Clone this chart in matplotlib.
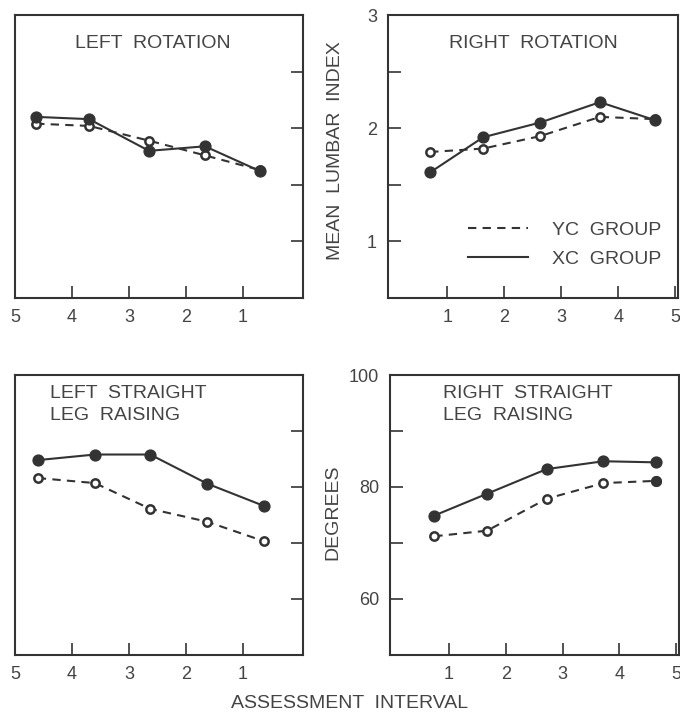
import matplotlib.pyplot as plt
from matplotlib.lines import Line2D

# =====================
# Data
# =====================
# x positions of the plotted points along the assessment-interval axis
lr_x = [4.63, 3.70, 2.65, 1.67, 0.70]
rr_x = [0.70, 1.63, 2.63, 3.68, 4.65]
lslr_x = [4.60, 3.60, 2.63, 1.63, 0.63]
rslr_x = [0.74, 1.67, 2.72, 3.72, 4.65]

# mean lumbar index
lr_xc = [2.10, 2.08, 1.80, 1.84, 1.62]
lr_yc = [2.04, 2.02, 1.89, 1.76, 1.63]
rr_xc = [1.61, 1.92, 2.05, 2.23, 2.07]
rr_yc = [1.79, 1.82, 1.93, 2.10, 2.08]

# degrees
lslr_xc = [84.8, 85.8, 85.8, 80.6, 76.6]
lslr_yc = [81.6, 80.7, 76.1, 73.8, 70.3]
rslr_xc = [74.9, 78.8, 83.2, 84.6, 84.4]
rslr_yc = [71.2, 72.2, 77.9, 80.7, 81.1]

interval_ticks = [1, 2, 3, 4, 5]
lumbar_ticks = [1, 1.5, 2, 2.5, 3]
lumbar_labels = ['1', '', '2', '', '3']
degree_ticks = [60, 70, 80, 90, 100]
degree_labels = ['60', '', '80', '', '100']

# =====================
# Style
# =====================
plt.rcParams['font.family'] = ['Liberation Sans', 'DejaVu Sans']
ink = '#333333'
txt = '#444444'

fig = plt.figure(figsize=(6.8, 7.14), dpi=100)

def px_axes(l, r, t, b):
    W, H = 680, 714
    return fig.add_axes([l / W, 1 - b / H, (r - l) / W, (b - t) / H])

ax_lr = px_axes(15, 303, 15, 298)
ax_rr = px_axes(388, 678, 15, 298)
ax_ls = px_axes(15, 303, 375, 655)
ax_rs = px_axes(390, 679, 375, 655)


def style(ax, left_panel, yticks, ylabels, ylim):
    for s in ax.spines.values():
        s.set_linewidth(1.5)
        s.set_color(ink)
    ax.set_xticks(interval_ticks)
    ax.set_yticks(yticks)
    ax.set_ylim(*ylim)
    ax.tick_params(direction='in', length=9, width=1.2, color=ink,
                   labelsize=13, labelcolor=txt)
    ax.tick_params(axis='x', pad=8)
    if left_panel:
        ax.set_xlim(5, -0.05)
        ax.yaxis.tick_right()
        ax.tick_params(axis='y', labelright=False, left=False)
    else:
        ax.set_xlim(-0.04, 5.05)
        ax.set_yticklabels(ylabels)
        ax.tick_params(axis='y', pad=8)


def draw(ax, x, xc, yc):
    ax.plot(x, yc, ls='--', dashes=(4, 3), color=ink, lw=1.5,
            marker='o', ms=6, mfc='white', mec=ink, mew=1.8, zorder=3)
    ax.plot(x, xc, ls='-', color=ink, lw=1.5,
            marker='o', ms=7.8, mfc=ink, mec=ink, zorder=4)


style(ax_lr, True, lumbar_ticks, lumbar_labels, (0.5, 3))
style(ax_rr, False, lumbar_ticks, lumbar_labels, (0.5, 3))
style(ax_ls, True, degree_ticks, degree_labels, (50, 100))
style(ax_rs, False, degree_ticks, degree_labels, (50, 100))

draw(ax_lr, lr_x, lr_xc, lr_yc)
draw(ax_rr, rr_x, rr_xc, rr_yc)
draw(ax_ls, lslr_x, lslr_xc, lslr_yc)
draw(ax_rs, rslr_x, rslr_xc, rslr_yc)

# last YC point of right SLR looks filled in the figure
ax_rs.plot(rslr_x[-1:], rslr_yc[-1:], 'o', ms=7, color=ink, zorder=5)

# panel titles
ax_lr.text(0.48, 0.90, 'LEFT  ROTATION', transform=ax_lr.transAxes,
           ha='center', va='center', fontsize=14, color=txt)
ax_rr.text(0.503, 0.90, 'RIGHT  ROTATION', transform=ax_rr.transAxes,
           ha='center', va='center', fontsize=14, color=txt)
ax_ls.text(0.12, 0.896, 'LEFT  STRAIGHT\nLEG  RAISING', transform=ax_ls.transAxes,
           ha='left', va='center', fontsize=14, color=txt, linespacing=1.38)
ax_rs.text(0.183, 0.896, 'RIGHT  STRAIGHT\nLEG  RAISING', transform=ax_rs.transAxes,
           ha='left', va='center', fontsize=14, color=txt, linespacing=1.38)

# legend
handles = [Line2D([], [], ls='--', dashes=(4, 3), color=ink, lw=1.5),
           Line2D([], [], ls='-', color=ink, lw=1.5)]
ax_rr.legend(handles, ['YC  GROUP', 'XC  GROUP'], loc='upper left',
             bbox_to_anchor=(0.276, 0.272), frameon=False, fontsize=14,
             handlelength=3.1, handletextpad=1.2, labelspacing=0.62,
             borderpad=0, borderaxespad=0, labelcolor=txt)

# axis labels
fig.text(335 / 680, 1 - 151 / 714, 'MEAN  LUMBAR  INDEX', rotation=90,
         ha='center', va='center', fontsize=14, color=txt)
fig.text(333 / 680, 1 - 512 / 714, 'DEGREES', rotation=90,
         ha='center', va='center', fontsize=14, color=txt)
fig.text(350 / 680, 1 - 704 / 714, 'ASSESSMENT  INTERVAL',
         ha='center', va='center', fontsize=14, color=txt)

fig.savefig('out.png', dpi=100, facecolor='white')
